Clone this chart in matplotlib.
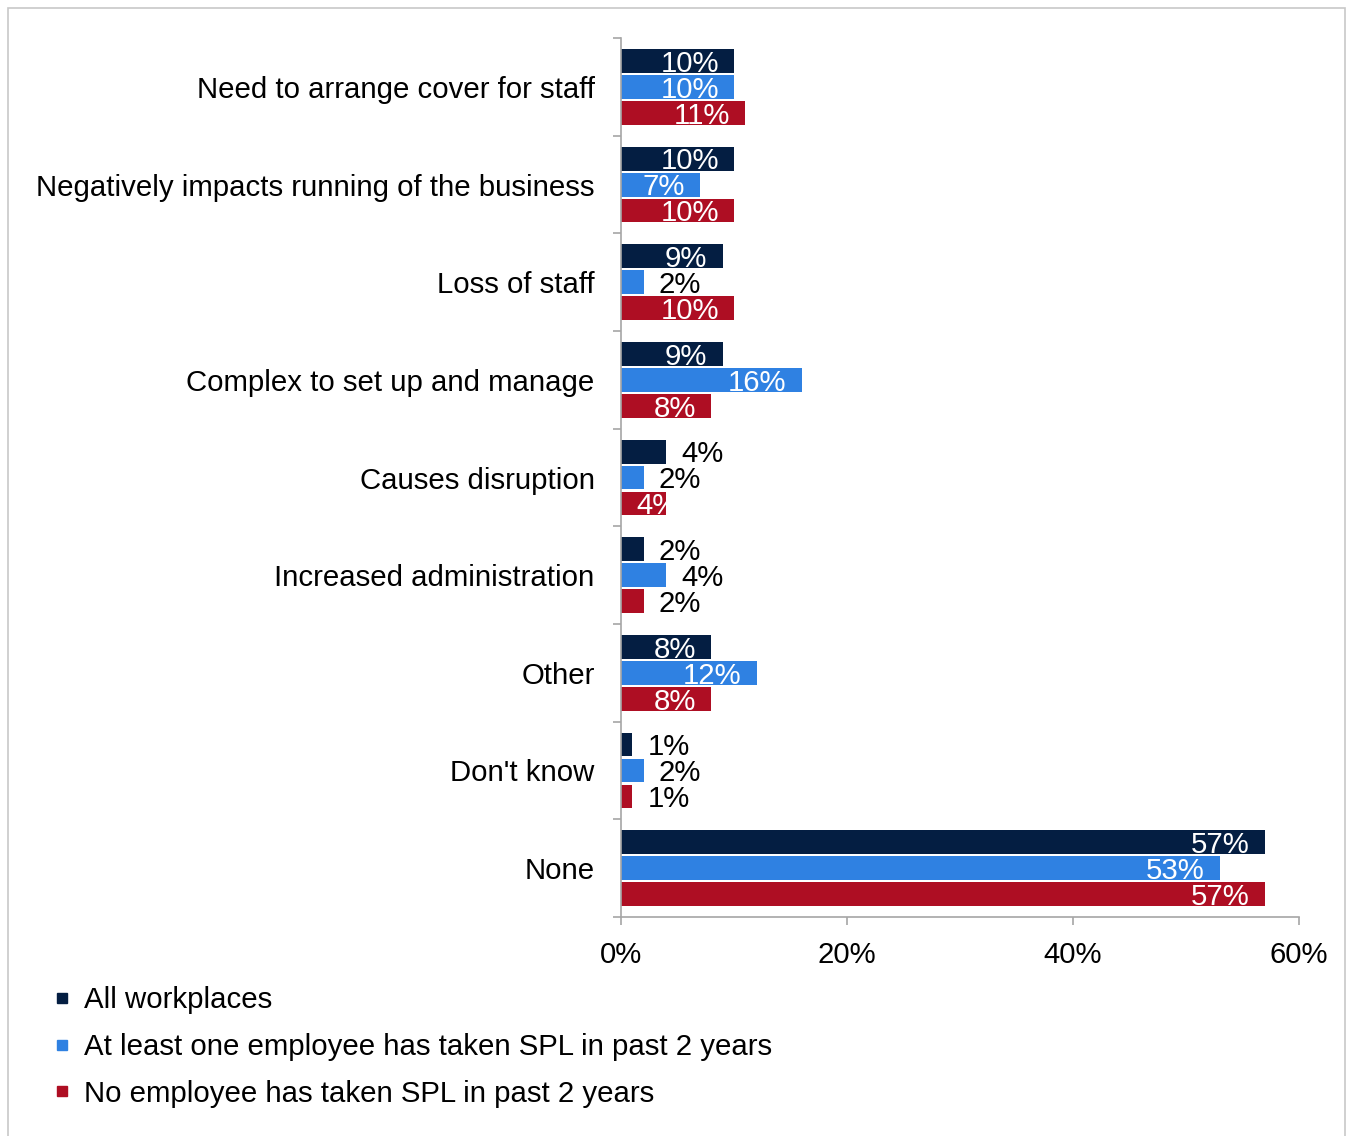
import numpy as np
import matplotlib.pyplot as plt
from matplotlib.lines import Line2D
from matplotlib.patches import Rectangle

plt.rcParams['font.family'] = ['Liberation Sans', 'DejaVu Sans']

# categories en waarden (percentages) per groep
categories = ["Need to arrange cover for staff",
              "Negatively impacts running of the business",
              "Loss of staff",
              "Complex to set up and manage",
              "Causes disruption",
              "Increased administration",
              "Other",
              "Don't know",
              "None"]
all_workplaces = [10, 10, 9, 9, 4, 2, 8, 1, 57]
taken_spl = [10, 7, 2, 16, 2, 4, 12, 2, 53]
not_taken_spl = [11, 10, 10, 8, 4, 2, 8, 1, 57]

series_names = ["All workplaces",
                "At least one employee has taken SPL in past 2 years",
                "No employee has taken SPL in past 2 years"]
colors = ["#041E42", "#2F81E2", "#AE0E23"]
x_ticks = [0, 20, 40, 60]

fig = plt.figure(figsize=(13.48, 11.36), dpi=100)
ax = fig.add_axes([0.4607, 0.1928, 0.5030, 0.7737])

y = np.arange(len(categories))
offsets = [-0.266, 0, 0.266]
fs = 21.2

for k, vals in enumerate([all_workplaces, taken_spl, not_taken_spl]):
    bars = ax.barh(y + offsets[k], vals, height=0.245, color=colors[k], label=series_names[k])
    for i, (b, v) in enumerate(zip(bars, vals)):
        yc = b.get_y() + b.get_height() / 2
        if v >= 7:
            # label binnen de balk, rechts uitgelijnd
            ax.annotate(f"{v}%", (v, yc), xytext=(-11, -2), textcoords="offset points",
                        ha="right", va="center", color="white", fontsize=fs)
        elif k == 2 and v == 4:
            # label loopt over het eind van de balk en wordt afgekapt
            t = ax.annotate(f"{v}%", (0, yc), xytext=(11, -2), textcoords="offset points",
                            ha="left", va="center", color="white", fontsize=fs)
            t.set_clip_path(b)
        else:
            ax.annotate(f"{v}%", (v, yc), xytext=(11, -2), textcoords="offset points",
                        ha="left", va="center", color="black", fontsize=fs)

ax.set_ylim(len(categories) - 0.5, -0.5)
ax.set_xlim(0, 60)
ax.set_yticks(y)
ax.set_yticklabels(categories, fontsize=fs)
ax.set_yticks(np.arange(-0.5, len(categories), 1), minor=True)
ax.tick_params(axis="y", which="major", length=0, pad=19)
ax.tick_params(axis="y", which="minor", length=6, color="#A6A6A6", width=1.2)
ax.set_xticks(x_ticks)
ax.set_xticklabels([f"{t}%" for t in x_ticks], fontsize=fs)
ax.tick_params(axis="x", length=6, color="#A6A6A6", width=1.2, pad=11)

for s in ["top", "right"]:
    ax.spines[s].set_visible(False)
for s in ["left", "bottom"]:
    ax.spines[s].set_color("#A6A6A6")
    ax.spines[s].set_linewidth(1.2)

handles = [Line2D([], [], marker="s", linestyle="none", markersize=7, color=c) for c in colors]
fig.legend(handles, series_names, loc="upper left", bbox_to_anchor=(0.031, 0.142),
           frameon=False, fontsize=fs, handlelength=0.6, handletextpad=0.42,
           labelspacing=0.63, borderaxespad=0)

# grijze rand om de figuur
fig.patches.append(Rectangle((8 / 1348, -0.1), 1337 / 1348, 1.1 - 8 / 1136,
                             transform=fig.transFigure, fill=False,
                             edgecolor="#C8C8C8", linewidth=1.2))

fig.savefig("out.png", dpi=100)
